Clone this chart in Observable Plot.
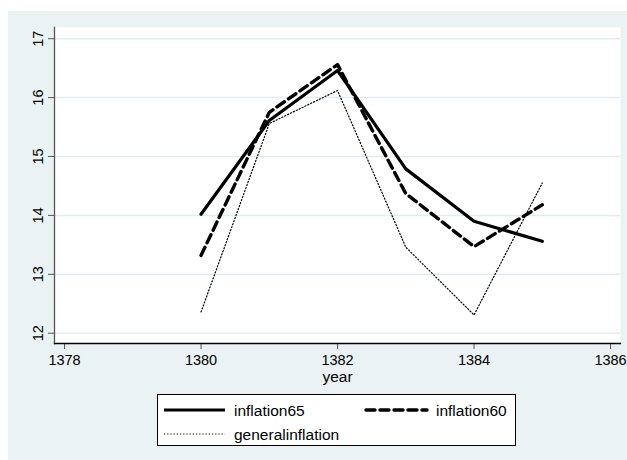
<!DOCTYPE html>
<html>
<head>
<meta charset="utf-8">
<script src="https://cdn.jsdelivr.net/npm/d3@7"></script>
<script src="https://cdn.jsdelivr.net/npm/@observablehq/plot@0.6"></script>
<style>
  body { margin: 0; background: #ffffff; font-family: "Liberation Sans", Arial, sans-serif; }
  #wrap { position: relative; width: 627px; height: 460px; background: #ffffff; overflow: hidden; }
  #bg { position: absolute; left: 8px; top: 11px; width: 619px; height: 449px; background: #eaf2f3; }
  #chart { position: absolute; left: 0; top: 0; }
  #legend { position: absolute; left: 157px; top: 394px; width: 359px; height: 52px; background: #ffffff; border: 1px solid #000; box-sizing: border-box; }
  #legend svg { display: block; }
</style>
</head>
<body>
<div id="wrap">
  <div id="bg"></div>
  <div id="chart"></div>
  <div id="legend"></div>
</div>
<script>
const years = [1380, 1381, 1382, 1383, 1384, 1385];
const inflation65 = [14.02, 15.61, 16.46, 14.79, 13.90, 13.56];
const inflation60 = [13.32, 15.75, 16.56, 14.37, 13.47, 14.18];
const generalinflation = [12.36, 15.56, 16.12, 13.46, 12.31, 14.55];
const xTicks = [1378, 1380, 1382, 1384, 1386];
const yTicks = [12, 13, 14, 15, 16, 17];
const seriesNames = ["inflation65", "inflation60", "generalinflation"];
const xLabel = "year";

const toRows = (vals) => years.map((y, i) => ({year: y, value: vals[i]}));
const d65 = toRows(inflation65);
const d60 = toRows(inflation60);
const dGen = toRows(generalinflation);

const font = "Liberation Sans, Arial, sans-serif";

const chart = Plot.plot({
  width: 627,
  height: 385,
  marginLeft: 54,
  marginRight: 7,
  marginTop: 27,
  marginBottom: 42,
  style: {background: "transparent", fontFamily: font, fontSize: "14.5px", color: "#000"},
  x: {domain: [1377.853, 1386.146]},
  y: {domain: [11.825, 17.19]},
  marks: [
    Plot.frame({fill: "#ffffff", stroke: "none"}),
    Plot.gridY(yTicks, {stroke: "#e3ecee", strokeOpacity: 1, strokeWidth: 1.5}),
    Plot.axisY(yTicks, {tickSize: 6, tickPadding: 6, tickRotate: -90, textAnchor: "middle", lineAnchor: "bottom", tickFormat: d => String(d), label: null, stroke: "#555", fontSize: 14.5, fill: "#000"}),
    Plot.axisX(xTicks, {tickSize: 6, tickPadding: 5, tickFormat: d => String(d), label: null, stroke: "#555", fontSize: 14.5, fill: "#000"}),
    Plot.text([xLabel], {frameAnchor: "bottom", dy: 38, lineAnchor: "bottom", fontSize: 15.5, fill: "#000"}),
    Plot.line(dGen, {x: "year", y: "value", stroke: "#000", strokeWidth: 1.2, strokeDasharray: "1.2,2"}),
    Plot.line(d60, {x: "year", y: "value", stroke: "#000", strokeWidth: 3.4, strokeDasharray: "9,5", strokeLinecap: "round"}),
    Plot.line(d65, {x: "year", y: "value", stroke: "#000", strokeWidth: 3.2}),
    Plot.frame({anchor: "left", stroke: "#555", strokeWidth: 1.3}),
    Plot.frame({anchor: "bottom", stroke: "#000", strokeWidth: 1.3})
  ]
});
document.getElementById("chart").appendChild(chart);

// legend (HTML box + small svg samples)
const styles = [
  {w: 3.2, dash: null, cap: "butt"},
  {w: 3.4, dash: "9,5", cap: "round"},
  {w: 1.2, dash: "1.2,2", cap: "butt"}
];
const pos = [
  {x: 6, y: 15},
  {x: 208, y: 15},
  {x: 6, y: 39}
];
const svgNS = "http://www.w3.org/2000/svg";
const lsvg = document.createElementNS(svgNS, "svg");
lsvg.setAttribute("width", 357);
lsvg.setAttribute("height", 50);
seriesNames.forEach((name, i) => {
  const p = pos[i], s = styles[i];
  const ln = document.createElementNS(svgNS, "line");
  ln.setAttribute("x1", p.x); ln.setAttribute("x2", p.x + 61);
  ln.setAttribute("y1", p.y); ln.setAttribute("y2", p.y);
  ln.setAttribute("stroke", "#000");
  ln.setAttribute("stroke-width", s.w);
  ln.setAttribute("stroke-linecap", s.cap);
  if (s.dash) ln.setAttribute("stroke-dasharray", s.dash);
  lsvg.appendChild(ln);
  const t = document.createElementNS(svgNS, "text");
  t.setAttribute("x", p.x + 70); t.setAttribute("y", p.y + 5.5);
  t.setAttribute("font-family", font); t.setAttribute("font-size", 15.5);
  t.textContent = name;
  lsvg.appendChild(t);
});
document.getElementById("legend").appendChild(lsvg);
</script>
</body>
</html>
